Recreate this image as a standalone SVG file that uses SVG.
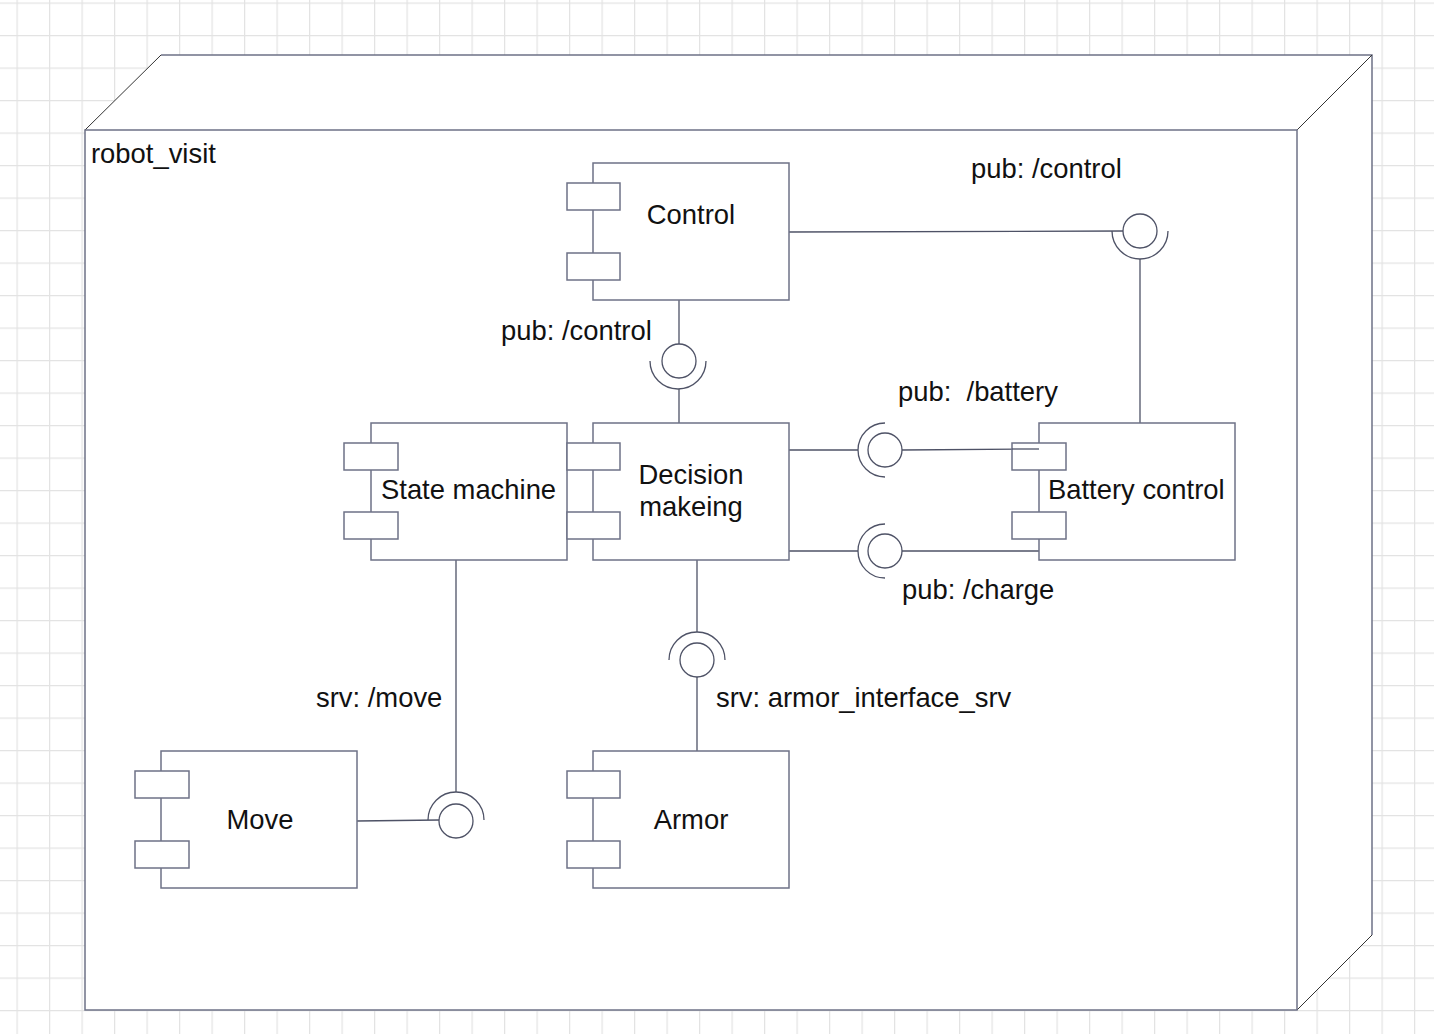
<svg xmlns="http://www.w3.org/2000/svg" width="1434" height="1034" viewBox="0 0 1434 1034">
  <defs>
    <pattern id="grid" x="16.5" y="2.5" width="32.5" height="32.5" patternUnits="userSpaceOnUse">
      <path d="M0.5 0 V32.5 M0 0.5 H32.5" fill="none" stroke="#e3e3e3" stroke-width="1.5"/>
    </pattern>
  </defs>
  <style>
    .frame { fill: #ffffff; stroke: #6e7287; stroke-width: 1.5; }
    .edge3d { fill: none; stroke: #333333; stroke-width: 1; }
    .comp { fill: #ffffff; stroke: #6e7287; stroke-width: 1.5; }
    .wire { fill: none; stroke: #4e5266; stroke-width: 1.3; }
    .iface { fill: #ffffff; stroke: #4e5266; stroke-width: 1.3; }
    .sock { fill: none; stroke: #4e5266; stroke-width: 1.3; }
    text { font-family: "Liberation Sans", Arial, sans-serif; font-size: 27.4px; fill: #111111; }
    .mid { text-anchor: middle; }
  </style>
  <rect x="0" y="0" width="1434" height="1034" fill="#ffffff"/>
  <rect x="0" y="0" width="1434" height="1034" fill="url(#grid)"/>

  <g id="robot_visit">
    <path d="M85 130 L161 55 L1372 55 L1372 935 L1297 1010 Z" fill="#ffffff"/>
    <path class="frame" d="M161 55 H1372 V935"/>
    <path class="edge3d" d="M85 130 L161 55 M1297 130 L1372 55 M1297 1010 L1372 935"/>
    <rect class="frame" x="85" y="130" width="1212" height="880"/>
    <text x="91" y="163">robot_visit</text>
  </g>

  <g id="connectors">
    <path class="wire" d="M789 232 L1124 231"/>
    <path class="wire" d="M1140 259 V423"/>
    <path class="wire" d="M679 300 V344"/>
    <path class="wire" d="M679 389 V423"/>
    <path class="wire" d="M789 450 H858"/>
    <path class="wire" d="M902 450 L1039 449"/>
    <path class="wire" d="M789 551 H858"/>
    <path class="wire" d="M902 551 H1039"/>
    <path class="wire" d="M697 560 V632"/>
    <path class="wire" d="M697 677 V751"/>
    <path class="wire" d="M456 560 V792"/>
    <path class="wire" d="M357 821 L439 820"/>
  </g>

  <g id="iface_control_top">
    <path class="sock" d="M1112 231 A28 28 0 0 0 1168 231"/>
    <circle class="iface" cx="1140" cy="231" r="17"/>
    <text x="971" y="178">pub: /control</text>
  </g>
  <g id="iface_control_decision">
    <path class="sock" d="M650 361 A28 28 0 0 0 706 361"/>
    <circle class="iface" cx="679" cy="361" r="17"/>
    <text x="501" y="340">pub: /control</text>
  </g>
  <g id="iface_battery">
    <path class="sock" d="M885 423 A27 27 0 0 0 885 477"/>
    <circle class="iface" cx="885" cy="450" r="17"/>
    <text x="898" y="401" xml:space="preserve">pub:  /battery</text>
  </g>
  <g id="iface_charge">
    <path class="sock" d="M885 524 A27 27 0 0 0 885 578"/>
    <circle class="iface" cx="885" cy="551" r="17"/>
    <text x="902" y="599">pub: /charge</text>
  </g>
  <g id="iface_armor">
    <path class="sock" d="M669 660 A28 28 0 0 1 725 660"/>
    <circle class="iface" cx="697" cy="660" r="17"/>
    <text x="716" y="707">srv: armor_interface_srv</text>
  </g>
  <g id="iface_move">
    <path class="sock" d="M428 820 A28 28 0 0 1 484 820"/>
    <circle class="iface" cx="456" cy="821" r="17"/>
    <text x="316" y="707">srv: /move</text>
  </g>

  <g id="control">
    <rect class="comp" x="593" y="163" width="196" height="137"/>
    <rect class="comp" x="567" y="183" width="53" height="27"/>
    <rect class="comp" x="567" y="253" width="53" height="27"/>
    <text class="mid" x="691" y="224">Control</text>
  </g>
  <g id="state_machine">
    <rect class="comp" x="371" y="423" width="196" height="137"/>
    <rect class="comp" x="344" y="443" width="54" height="27"/>
    <rect class="comp" x="344" y="512" width="54" height="27"/>
    <text x="381" y="499">State machine</text>
  </g>
  <g id="decision_makeing">
    <rect class="comp" x="593" y="423" width="196" height="137"/>
    <rect class="comp" x="567" y="443" width="53" height="27"/>
    <rect class="comp" x="567" y="512" width="53" height="27"/>
    <text class="mid" x="691" y="484">Decision</text>
    <text class="mid" x="691" y="516">makeing</text>
  </g>
  <g id="battery_control">
    <rect class="comp" x="1039" y="423" width="196" height="137"/>
    <rect class="comp" x="1012" y="443" width="54" height="27"/>
    <rect class="comp" x="1012" y="512" width="54" height="27"/>
    <path class="wire" d="M1012 449 H1039"/>
    <text x="1048" y="499">Battery control</text>
  </g>
  <g id="move">
    <rect class="comp" x="161" y="751" width="196" height="137"/>
    <rect class="comp" x="135" y="771" width="54" height="27"/>
    <rect class="comp" x="135" y="841" width="54" height="27"/>
    <text class="mid" x="260" y="829">Move</text>
  </g>
  <g id="armor">
    <rect class="comp" x="593" y="751" width="196" height="137"/>
    <rect class="comp" x="567" y="771" width="53" height="27"/>
    <rect class="comp" x="567" y="841" width="53" height="27"/>
    <text class="mid" x="691" y="829">Armor</text>
  </g>
</svg>
